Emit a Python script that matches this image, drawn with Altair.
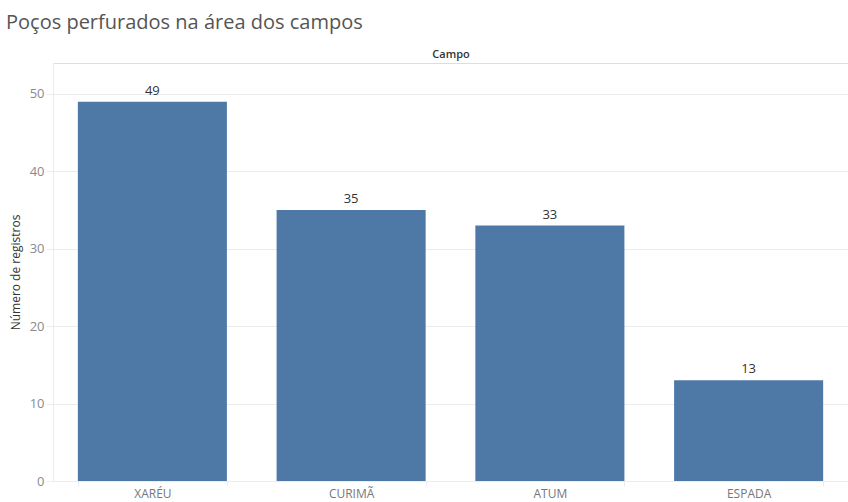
import altair as alt
import pandas as pd

campos = ["XARÉU", "CURIMÃ", "ATUM", "ESPADA"]
registros = [49, 35, 33, 13]

df = pd.DataFrame({"Campo": campos, "Registros": registros})

FONT = "Open Sans"
GRID = "#ececec"
W, H = 795, 418

x_enc = alt.X(
    "Campo:N",
    sort=campos,
    scale=alt.Scale(paddingInner=0.25, paddingOuter=0.125),
    axis=alt.Axis(
        title="Campo",
        titleFont=FONT,
        titleFontSize=11,
        titleFontWeight=600,
        titleColor="#333333",
        titleBaseline="middle",
        titleX=W / 2,
        titleY=-H - 9,
        labelAngle=0,
        labelColor="#777777",
        labelFontSize=12,
        labelFont=FONT,
        labelPadding=2,
        tickBand="extent",
        tickColor=GRID,
        tickSize=5,
        domainColor=GRID,
        grid=False,
    ),
)

y_enc = alt.Y(
    "Registros:Q",
    scale=alt.Scale(domain=[0, 54], nice=False),
    axis=alt.Axis(
        title="Número de registros",
        titleFont=FONT,
        titleFontSize=12,
        titleFontWeight=500,
        titleColor="#333333",
        titlePadding=7,
        values=[0, 10, 20, 30, 40, 50],
        labelColor="#8a8a8a",
        labelFontSize=13,
        labelFont=FONT,
        labelPadding=2,
        tickColor=GRID,
        tickSize=7,
        gridColor=GRID,
        domainColor=GRID,
    ),
)

base = alt.Chart(df)

bars = base.mark_bar(color="#4e79a7").encode(x=x_enc, y=y_enc)

labels = base.mark_text(
    baseline="bottom", dy=-4, font=FONT, fontSize=13, color="#333333"
).encode(
    x=x_enc,
    y=y_enc,
    text="Registros:Q",
)

chart = (
    alt.layer(bars, labels)
    .properties(
        width=W,
        height=H,
        autosize=alt.AutoSizeParams(type="none"),
        padding={"left": 53, "top": 63, "right": 0, "bottom": 21},
        title=alt.TitleParams(
            "Poços perfurados na área dos campos",
            anchor="start",
            frame="group",
            font=FONT,
            fontSize=20,
            fontWeight="normal",
            color="#555555",
            dx=-47,
            offset=15,
        ),
    )
    .configure_view(strokeWidth=0, stroke="transparent")
    .configure(background="white")
)

chart.save("out.html", embed_options={"renderer": "svg", "actions": False})
